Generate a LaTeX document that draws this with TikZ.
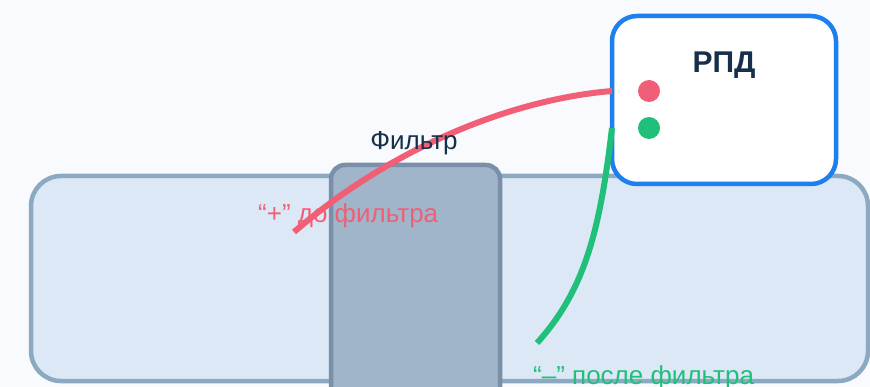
\documentclass[tikz,border=0pt]{standalone}
\usepackage{fontspec}
\setmainfont{Liberation Sans}
\definecolor{bgc}{HTML}{F8FAFD}
\definecolor{pipefill}{HTML}{DCE8F5}
\definecolor{pipeedge}{HTML}{8CA9C2}
\definecolor{filtfill}{HTML}{A0B5CA}
\definecolor{filtedge}{HTML}{7A90A8}
\definecolor{navy}{HTML}{16304C}
\definecolor{rpdblue}{HTML}{1E7FEF}
\definecolor{wred}{HTML}{F05F75}
\definecolor{wgreen}{HTML}{20C07A}
\tikzset{
  pipebox/.style={draw=pipeedge, fill=pipefill, line width=4.5pt, rounded corners=30pt, outer sep=0pt},
  filterbox/.style={draw=filtedge, fill=filtfill, line width=4.5pt, rounded corners=14pt, outer sep=0pt},
  rpdbox/.style={draw=rpdblue, fill=white, line width=4.5pt, rounded corners=25pt, outer sep=0pt},
  dotc/.style={circle, inner sep=0pt, minimum size=22pt},
  wire/.style={line width=6pt},
  lbl/.style={inner sep=0pt, font=\fontsize{26}{30}\selectfont}
}
\begin{document}
\begin{tikzpicture}[x=1pt,y=-1pt]
\useasboundingbox (0,0) rectangle (870,387);
\clip (0,0) rectangle (870,387);
\fill[bgc] (0,0) rectangle (870,387);
\node[pipebox, minimum width=837pt, minimum height=205pt, anchor=north west, inner sep=0pt] (pipe) at (31,176) {};
\node[filterbox, minimum width=169pt, minimum height=240pt, anchor=north west, inner sep=0pt] (filter) at (331,165) {};
\node[rpdbox, minimum width=224pt, minimum height=168pt, anchor=north west, inner sep=0pt] (rpd) at (612,16) {};
\node[inner sep=0pt, text=navy, anchor=base, font=\fontsize{30}{34}\selectfont\bfseries] (rpdt) at (724,73) {РПД};
\node[dotc, fill=wred] (dplus) at (649,91) {};
\node[dotc, fill=wgreen] (dminus) at (649,128) {};
\node[lbl, text=wred, anchor=base west] (plbl) at (258,223) {“+” до фильтра};
\node[lbl, text=wgreen, anchor=base west] (mlbl) at (533,384) {“–” после фильтра};
\coordinate (rs) at (rpd.west |- dplus);
\coordinate (gs) at (rpd.west |- dminus);
\coordinate (re) at (294,232);
\coordinate (ge) at (537,343);
\draw[wire, wred] (rs) .. controls (515,99) and (395,145) .. (re);
\draw[wire, wgreen] (gs) .. controls (600,230) and (585,290) .. (ge);
\node[lbl, text=navy, anchor=base] (flabel) at (414,150) {Фильтр};
\end{tikzpicture}
\end{document}
